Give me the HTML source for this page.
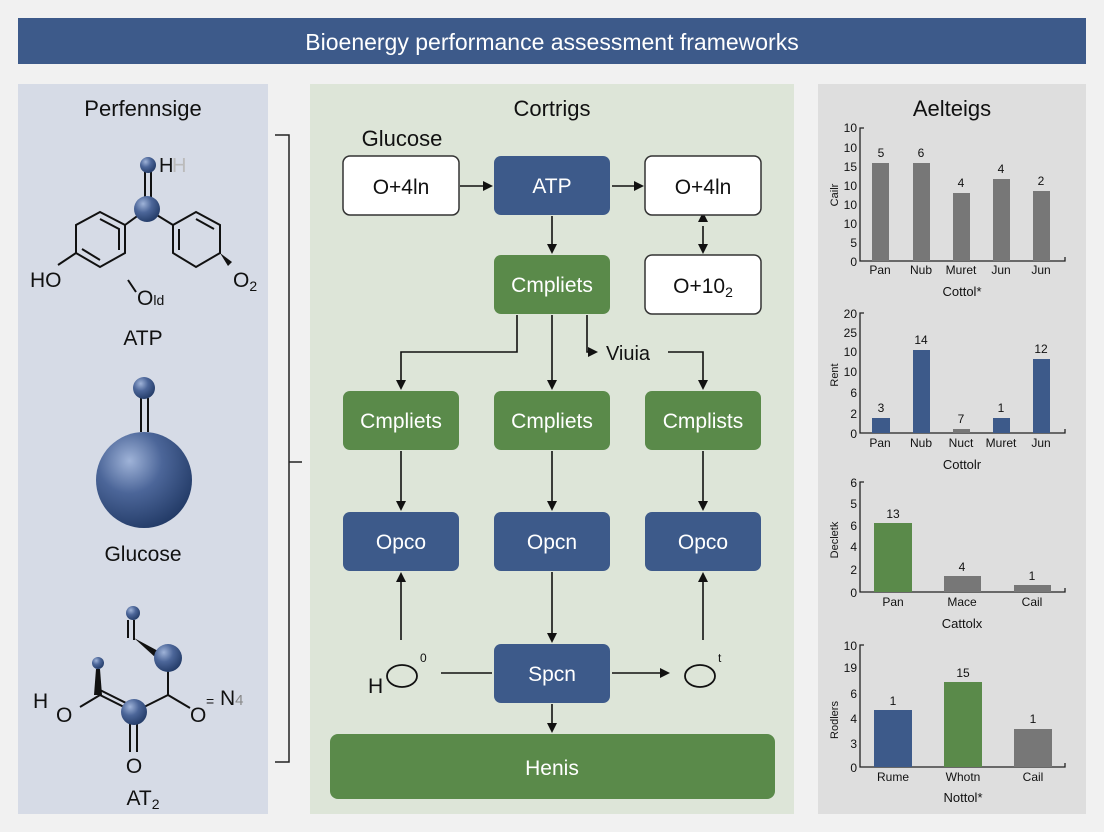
<!DOCTYPE html>
<html><head><meta charset="utf-8"><style>
html,body{margin:0;padding:0;background:#f1f1f1;}
svg{display:block;font-family:"Liberation Sans",sans-serif;}
</style></head><body>
<svg width="1104" height="832" viewBox="0 0 1104 832" xmlns="http://www.w3.org/2000/svg">
<defs>
<radialGradient id="sph" cx="0.35" cy="0.3" r="0.75"><stop offset="0" stop-color="#9fb3d8"/><stop offset="0.45" stop-color="#4c6699"/><stop offset="1" stop-color="#223a66"/></radialGradient>
<marker id="ar" markerWidth="10" markerHeight="10" refX="8" refY="5" orient="auto" markerUnits="userSpaceOnUse"><path d="M0,0 L10,5 L0,10 z" fill="#111"/></marker>
</defs>
<rect width="1104" height="832" fill="#f1f1f1"/>
<rect x="18" y="18" width="1068" height="46" fill="#3d5a8a"/>
<text x="552" y="50" font-size="23" fill="#fff" text-anchor="middle">Bioenergy performance assessment frameworks</text>

<!-- left panel -->
<rect x="18" y="84" width="250" height="730" fill="#d6dbe6"/>
<text x="143" y="116" font-size="22" text-anchor="middle" fill="#111">Perfennsige</text>
<g stroke="#111" stroke-width="2" fill="none">
<line x1="145" y1="172" x2="145" y2="200"/><line x1="151" y1="172" x2="151" y2="200"/>
<line x1="147" y1="209" x2="125" y2="225"/><line x1="147" y1="209" x2="173" y2="225"/>
<polygon points="100,212 125,225 125,253 100,267 76,253 76,225"/>
<polyline points="100,219 119,229 119,250"/><polyline points="82,249 100,260"/>
<polygon points="196,212 220,225 220,253 196,267 173,253 173,225"/>
<polyline points="196,219 214,229"/><polyline points="179,229 179,250"/>
<line x1="76" y1="253" x2="58" y2="265"/>
<line x1="128" y1="280" x2="136" y2="292"/>
</g>
<polygon points="220,253 232,262 228,266" fill="#111"/>
<circle cx="148" cy="165" r="8" fill="url(#sph)"/>
<circle cx="147" cy="209" r="13" fill="url(#sph)"/>
<text x="159" y="172" font-size="20" fill="#111">H</text><text x="172" y="172" font-size="20" fill="#bbb">H</text>
<text x="30" y="287" font-size="21" fill="#111">HO</text>
<text x="233" y="287" font-size="21" fill="#111">O<tspan font-size="14" dy="4">2</tspan></text>
<text x="137" y="305" font-size="21" fill="#111">O<tspan font-size="14">ld</tspan></text>
<text x="143" y="345" font-size="21" text-anchor="middle" fill="#111">ATP</text>

<line x1="141" y1="398" x2="141" y2="432" stroke="#111" stroke-width="2"/>
<line x1="148" y1="398" x2="148" y2="432" stroke="#111" stroke-width="2"/>
<circle cx="144" cy="388" r="11" fill="url(#sph)"/>
<circle cx="144" cy="480" r="48" fill="url(#sph)"/>
<text x="143" y="561" font-size="21" text-anchor="middle" fill="#111">Glucose</text>

<g stroke="#111" stroke-width="2" fill="none">
<line x1="128" y1="620" x2="128" y2="638"/><line x1="134" y1="620" x2="134" y2="640"/>
<line x1="134" y1="712" x2="100" y2="695"/><line x1="132" y1="706" x2="100" y2="690"/>
<line x1="100" y1="695" x2="80" y2="707"/>
<line x1="134" y1="712" x2="168" y2="695"/>
<line x1="168" y1="670" x2="168" y2="695"/><line x1="168" y1="695" x2="190" y2="708"/>
<line x1="130" y1="724" x2="130" y2="752"/><line x1="137" y1="724" x2="137" y2="752"/>
</g>
<polygon points="134,638 160,652 156,658" fill="#111"/>
<polygon points="96,669 100,669 102,695 94,695" fill="#111"/>
<circle cx="133" cy="613" r="7" fill="url(#sph)"/>
<circle cx="98" cy="663" r="6" fill="url(#sph)"/>
<circle cx="168" cy="658" r="14" fill="url(#sph)"/>
<circle cx="134" cy="712" r="13" fill="url(#sph)"/>
<text x="33" y="708" font-size="21" fill="#111">H</text>
<text x="56" y="722" font-size="21" fill="#111">O</text>
<text x="190" y="722" font-size="21" fill="#111">O</text>
<text x="206" y="706" font-size="14" fill="#111">=</text>
<text x="220" y="705" font-size="21" fill="#111">N<tspan font-size="15" fill="#888">4</tspan></text>
<text x="134" y="773" font-size="21" text-anchor="middle" fill="#111">O</text>
<text x="143" y="805" font-size="21" text-anchor="middle" fill="#111">AT<tspan font-size="14" dy="4">2</tspan></text>

<!-- bracket -->
<g stroke="#222" stroke-width="1.5" fill="none">
<polyline points="275,135 289,135 289,762 275,762"/>
<line x1="289" y1="462" x2="302" y2="462"/>
</g>

<!-- middle panel -->
<rect x="310" y="84" width="484" height="730" fill="#dde5d8"/>
<text x="552" y="116" font-size="22" text-anchor="middle" fill="#111">Cortrigs</text>
<text x="402" y="146" font-size="22" text-anchor="middle" fill="#111">Glucose</text>

<g stroke="#111" stroke-width="1.6" fill="none" marker-end="url(#ar)">
<line x1="460" y1="186" x2="491" y2="186"/>
<line x1="612" y1="186" x2="642" y2="186"/>
<line x1="552" y1="216" x2="552" y2="252"/>
<line x1="703" y1="226" x2="703" y2="252"/>
<line x1="552" y1="315" x2="552" y2="388"/>
<polyline points="517,315 517,352 401,352 401,388"/>
<polyline points="587,315 587,352 596,352"/>
<polyline points="668,352 703,352 703,388"/>
<line x1="401" y1="451" x2="401" y2="509"/>
<line x1="552" y1="451" x2="552" y2="509"/>
<line x1="703" y1="451" x2="703" y2="509"/>
<line x1="401" y1="640" x2="401" y2="574"/>
<line x1="703" y1="640" x2="703" y2="574"/>
<line x1="552" y1="572" x2="552" y2="641"/>
<line x1="612" y1="673" x2="668" y2="673"/>
<line x1="552" y1="704" x2="552" y2="731"/>
</g>
<line x1="703" y1="226" x2="703" y2="230" stroke="#111" stroke-width="1.6" marker-end="url(#ar)" transform="rotate(180 703 222)"/>
<line x1="441" y1="673" x2="492" y2="673" stroke="#111" stroke-width="1.6"/>
<text x="628" y="360" font-size="20" text-anchor="middle" fill="#111">Viuia</text>

<g font-size="21" text-anchor="middle">
<rect x="343" y="156" width="116" height="59" rx="7" fill="#fff" stroke="#333" stroke-width="1.5"/>
<text x="401" y="194" fill="#111">O+4ln</text>
<rect x="494" y="156" width="116" height="59" rx="7" fill="#3d5a8a"/>
<text x="552" y="193" fill="#fff">ATP</text>
<rect x="645" y="156" width="116" height="59" rx="7" fill="#fff" stroke="#333" stroke-width="1.5"/>
<text x="703" y="194" fill="#111">O+4ln</text>
<rect x="645" y="255" width="116" height="59" rx="7" fill="#fff" stroke="#333" stroke-width="1.5"/>
<text x="703" y="293" fill="#111">O+10<tspan font-size="14" dy="4">2</tspan></text>
<rect x="494" y="255" width="116" height="59" rx="7" fill="#5a8a4a"/>
<text x="552" y="292" fill="#fff">Cmpliets</text>
<rect x="343" y="391" width="116" height="59" rx="7" fill="#5a8a4a"/>
<text x="401" y="428" fill="#fff">Cmpliets</text>
<rect x="494" y="391" width="116" height="59" rx="7" fill="#5a8a4a"/>
<text x="552" y="428" fill="#fff">Cmpliets</text>
<rect x="645" y="391" width="116" height="59" rx="7" fill="#5a8a4a"/>
<text x="703" y="428" fill="#fff">Cmplists</text>
<rect x="343" y="512" width="116" height="59" rx="7" fill="#3d5a8a"/>
<text x="401" y="549" fill="#fff">Opco</text>
<rect x="494" y="512" width="116" height="59" rx="7" fill="#3d5a8a"/>
<text x="552" y="549" fill="#fff">Opcn</text>
<rect x="645" y="512" width="116" height="59" rx="7" fill="#3d5a8a"/>
<text x="703" y="549" fill="#fff">Opco</text>
<rect x="494" y="644" width="116" height="59" rx="7" fill="#3d5a8a"/>
<text x="552" y="681" fill="#fff">Spcn</text>
<rect x="330" y="734" width="445" height="65" rx="8" fill="#5a8a4a"/>
<text x="552" y="775" fill="#fff">Henis</text>
</g>
<text x="368" y="693" font-size="21" fill="#111">H</text>
<ellipse cx="402" cy="676" rx="15" ry="11" fill="none" stroke="#111" stroke-width="1.8"/>
<text x="420" y="662" font-size="12" fill="#111">0</text>
<ellipse cx="700" cy="676" rx="15" ry="11" fill="none" stroke="#111" stroke-width="1.8"/>
<text x="718" y="662" font-size="12" fill="#111">t</text>

<!-- right panel -->
<rect x="818" y="84" width="268" height="730" fill="#dedede"/>
<text x="952" y="116" font-size="22" text-anchor="middle" fill="#111">Aelteigs</text>
<g font-size="12" fill="#111" text-anchor="end">
<!-- chart 1 -->
<text x="857" y="132">10</text><text x="857" y="152">10</text><text x="857" y="171">15</text><text x="857" y="190">10</text><text x="857" y="209">10</text><text x="857" y="228">10</text><text x="857" y="247">5</text><text x="857" y="266">0</text>
<!-- chart 2 -->
<text x="857" y="318">20</text><text x="857" y="337">25</text><text x="857" y="356">10</text><text x="857" y="376">10</text><text x="857" y="397">6</text><text x="857" y="418">2</text><text x="857" y="438">0</text>
<!-- chart 3 -->
<text x="857" y="487">6</text><text x="857" y="508">5</text><text x="857" y="530">6</text><text x="857" y="551">4</text><text x="857" y="574">2</text><text x="857" y="597">0</text>
<!-- chart 4 -->
<text x="857" y="650">10</text><text x="857" y="672">19</text><text x="857" y="698">6</text><text x="857" y="723">4</text><text x="857" y="748">3</text><text x="857" y="772">0</text>
</g>
<g font-size="11" fill="#111" text-anchor="middle">
<text transform="translate(838,195) rotate(-90)">Cailr</text>
<text transform="translate(838,375) rotate(-90)">Rent</text>
<text transform="translate(838,540) rotate(-90)">Decletk</text>
<text transform="translate(838,720) rotate(-90)">Rodlers</text>
</g>
<g stroke="#222" stroke-width="1.3" fill="none">
<polyline points="864,128 860,128 860,261 1065,261 1065,257"/>
<polyline points="864,313 860,313 860,433 1065,433 1065,429"/>
<polyline points="864,482 860,482 860,592 1065,592 1065,588"/>
<polyline points="864,645 860,645 860,767 1065,767 1065,763"/>
</g>
<g fill="#777">
<rect x="872" y="163" width="17" height="98"/><rect x="913" y="163" width="17" height="98"/><rect x="953" y="193" width="17" height="68"/><rect x="993" y="179" width="17" height="82"/><rect x="1033" y="191" width="17" height="70"/>
<rect x="953" y="429" width="17" height="4"/>
<rect x="944" y="576" width="37" height="16"/><rect x="1014" y="585" width="37" height="7"/>
<rect x="1014" y="729" width="38" height="38"/>
</g>
<g fill="#3d5a8a">
<rect x="872" y="418" width="18" height="15"/><rect x="913" y="350" width="17" height="83"/><rect x="993" y="418" width="17" height="15"/><rect x="1033" y="359" width="17" height="74"/>
<rect x="874" y="710" width="38" height="57"/>
</g>
<g fill="#5a8a4a">
<rect x="874" y="523" width="38" height="69"/><rect x="944" y="682" width="38" height="85"/>
</g>
<g font-size="12" fill="#111" text-anchor="middle">
<text x="881" y="157">5</text><text x="921" y="157">6</text><text x="961" y="187">4</text><text x="1001" y="173">4</text><text x="1041" y="185">2</text>
<text x="880" y="274">Pan</text><text x="921" y="274">Nub</text><text x="961" y="274">Muret</text><text x="1001" y="274">Jun</text><text x="1041" y="274">Jun</text>
<text x="962" y="296" font-size="13">Cottol*</text>
<text x="881" y="412">3</text><text x="921" y="344">14</text><text x="961" y="423">7</text><text x="1001" y="412">1</text><text x="1041" y="353">12</text>
<text x="880" y="447">Pan</text><text x="921" y="447">Nub</text><text x="961" y="447">Nuct</text><text x="1001" y="447">Muret</text><text x="1041" y="447">Jun</text>
<text x="962" y="469" font-size="13">Cottolr</text>
<text x="893" y="518">13</text><text x="962" y="571">4</text><text x="1032" y="580">1</text>
<text x="893" y="606">Pan</text><text x="962" y="606">Mace</text><text x="1032" y="606">Cail</text>
<text x="962" y="628" font-size="13">Cattolx</text>
<text x="893" y="705">1</text><text x="963" y="677">15</text><text x="1033" y="723">1</text>
<text x="893" y="781">Rume</text><text x="963" y="781">Whotn</text><text x="1033" y="781">Cail</text>
<text x="963" y="802" font-size="13">Nottol*</text>
</g>
</svg>
</body></html>
